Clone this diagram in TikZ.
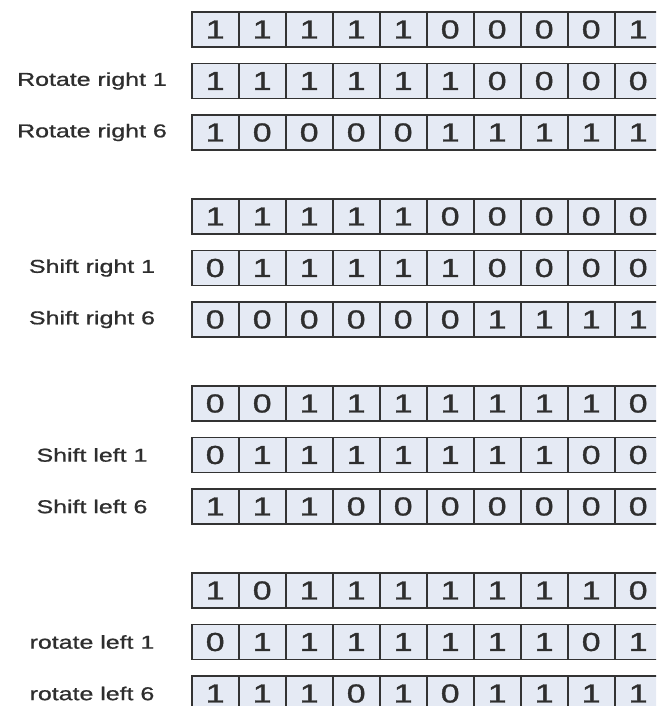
\documentclass[tikz,border=0pt]{standalone}
\usepackage{fontspec}
\usepackage{graphicx}
\setmainfont{Liberation Sans}
\newfontfamily\digfont[FakeBold=1.2]{Liberation Sans}
\newfontfamily\labfont[FakeBold=0.8]{Liberation Sans}
\definecolor{cellfill}{HTML}{E5EAF4}
\definecolor{cellline}{HTML}{333333}
\definecolor{txt}{HTML}{2E2E2E}
\newcommand{\bitrow}[3]{%
  \foreach \b [count=\k from 0] in {#3}{%
    \pgfmathsetmacro{\yc}{12+187*#1+51.5*#2+17.5}%
    \pgfmathsetmacro{\xc}{191.7+47*\k+23.5}%
    \node[cellbox] (c-#1-#2-\k) at (\xc,\yc) {\raisebox{-1.2pt}{\scalebox{1.3}[1]{\b}}};%
  }%
}
\newcommand{\rowlab}[3]{%
  \pgfmathsetmacro{\yc}{12+187*#1+51.5*#2+17.5}%
  \node[rowlabel] (l-#1-#2) at (92,\yc) {\scalebox{1.34}[1]{#3}};%
}
\begin{document}
\begin{tikzpicture}[x=1pt,y=-1pt,
  cellbox/.style={draw=cellline,fill=cellfill,line width=1.7pt,minimum width=47pt,minimum height=35pt,inner sep=0pt,
    font=\digfont\fontsize{26}{26}\selectfont,text=txt},
  rowlabel/.style={inner sep=0pt,font=\labfont\fontsize{18.6}{19}\selectfont,text=txt}]
\useasboundingbox (0,0) rectangle (656,706);
\clip (0,0) rectangle (656,706);
\fill[white] (0,0) rectangle (656,706);
\bitrow{0}{0}{1,1,1,1,1,0,0,0,0,1}
\bitrow{0}{1}{1,1,1,1,1,1,0,0,0,0}
\bitrow{0}{2}{1,0,0,0,0,1,1,1,1,1}
\rowlab{0}{1}{Rotate right 1}
\rowlab{0}{2}{Rotate right 6}
\bitrow{1}{0}{1,1,1,1,1,0,0,0,0,0}
\bitrow{1}{1}{0,1,1,1,1,1,0,0,0,0}
\bitrow{1}{2}{0,0,0,0,0,0,1,1,1,1}
\rowlab{1}{1}{Shift right 1}
\rowlab{1}{2}{Shift right 6}
\bitrow{2}{0}{0,0,1,1,1,1,1,1,1,0}
\bitrow{2}{1}{0,1,1,1,1,1,1,1,0,0}
\bitrow{2}{2}{1,1,1,0,0,0,0,0,0,0}
\rowlab{2}{1}{Shift left 1}
\rowlab{2}{2}{Shift left 6}
\bitrow{3}{0}{1,0,1,1,1,1,1,1,1,0}
\bitrow{3}{1}{0,1,1,1,1,1,1,1,0,1}
\bitrow{3}{2}{1,1,1,0,1,0,1,1,1,1}
\rowlab{3}{1}{rotate left 1}
\rowlab{3}{2}{rotate left 6}
\end{tikzpicture}
\end{document}
